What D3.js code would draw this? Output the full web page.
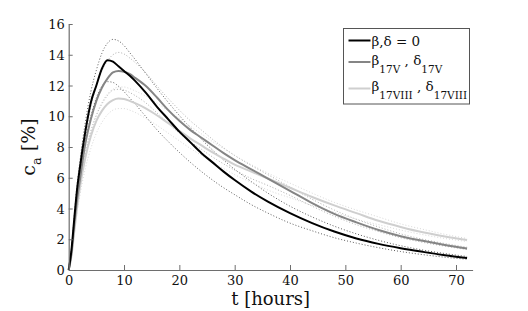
<!DOCTYPE html>
<html>
<head>
<meta charset="utf-8">
<script src="https://cdn.jsdelivr.net/npm/d3@7"></script>
<style>
  body { margin: 0; background: #fff; }
  svg { display: block; }
</style>
</head>
<body>
<div id="chart"></div>
<script>
// time grid (hours) shared by all curves
const hours = [0, 0.5, 1, 1.5, 2, 3, 4, 5, 6, 7, 8, 9, 10, 11, 12, 14, 16, 18, 20, 22, 24, 26, 28, 30, 33, 36, 40, 44, 48, 52, 56, 60, 64, 68, 72];

// beta, delta = 0
const caZero      = [0, 1.3, 3.3, 5.2, 6.6, 9.0, 10.9, 12.0, 13.1, 13.65, 13.55, 13.25, 12.95, 12.65, 12.3, 11.5, 10.6, 9.8, 9.0, 8.3, 7.6, 7.0, 6.4, 5.85, 5.1, 4.45, 3.7, 3.05, 2.5, 2.05, 1.7, 1.42, 1.18, 0.96, 0.78];
const caZeroHi    = [0, 1.4, 3.5, 5.5, 7.0, 9.6, 11.6, 13.0, 14.1, 14.75, 15.0, 14.9, 14.6, 14.15, 13.7, 12.75, 11.8, 10.9, 10.05, 9.25, 8.5, 7.8, 7.15, 6.55, 5.75, 5.0, 4.15, 3.45, 2.85, 2.35, 1.93, 1.58, 1.3, 1.07, 0.88];
const caZeroLo    = [0, 1.2, 3.1, 4.9, 6.2, 8.4, 10.0, 11.2, 11.95, 12.25, 12.2, 11.95, 11.6, 11.2, 10.8, 9.95, 9.1, 8.35, 7.65, 7.0, 6.4, 5.85, 5.35, 4.9, 4.25, 3.7, 3.05, 2.55, 2.1, 1.75, 1.45, 1.2, 1.0, 0.83, 0.7];

// beta_17V, delta_17V
const ca17V       = [0, 1.1, 2.9, 4.5, 5.8, 8.2, 9.8, 11.0, 11.85, 12.45, 12.85, 12.95, 12.9, 12.75, 12.5, 11.95, 11.2, 10.4, 9.7, 9.1, 8.6, 8.1, 7.6, 7.15, 6.55, 5.95, 5.15, 4.35, 3.65, 3.1, 2.6, 2.2, 1.9, 1.63, 1.4];
const ca17VHi     = [0, 1.2, 3.1, 4.8, 6.2, 8.7, 10.6, 12.0, 12.95, 13.6, 14.0, 14.15, 14.05, 13.8, 13.5, 12.8, 11.95, 11.15, 10.4, 9.7, 9.1, 8.5, 7.95, 7.45, 6.8, 6.2, 5.4, 4.6, 3.9, 3.3, 2.8, 2.35, 2.0, 1.72, 1.48];
const ca17VLo     = [0, 1.0, 2.7, 4.2, 5.4, 7.5, 9.0, 10.05, 10.8, 11.35, 11.7, 11.75, 11.7, 11.55, 11.35, 10.85, 10.2, 9.55, 8.9, 8.35, 7.85, 7.35, 6.9, 6.5, 5.95, 5.5, 4.85, 4.15, 3.5, 2.95, 2.5, 2.1, 1.8, 1.55, 1.33];

// beta_17VIII, delta_17VIII
const ca17VIII    = [0, 0.9, 2.5, 4.0, 5.3, 7.3, 8.7, 9.7, 10.35, 10.8, 11.05, 11.15, 11.12, 11.0, 10.85, 10.5, 10.05, 9.55, 9.05, 8.55, 8.1, 7.65, 7.25, 6.85, 6.4, 5.95, 5.35, 4.75, 4.2, 3.7, 3.2, 2.8, 2.45, 2.18, 1.95];
const ca17VIIIHi  = [0, 1.0, 2.7, 4.3, 5.6, 7.7, 9.1, 10.1, 10.9, 11.45, 11.75, 11.9, 11.9, 11.8, 11.65, 11.3, 10.85, 10.35, 9.85, 9.35, 8.85, 8.35, 7.9, 7.45, 6.85, 6.3, 5.65, 5.0, 4.4, 3.9, 3.45, 3.0, 2.65, 2.32, 2.05];
const ca17VIIILo  = [0, 0.8, 2.3, 3.7, 4.8, 6.6, 7.9, 8.9, 9.6, 10.1, 10.4, 10.5, 10.5, 10.4, 10.25, 9.85, 9.4, 8.9, 8.4, 7.9, 7.45, 7.0, 6.6, 6.2, 5.7, 5.2, 4.7, 4.2, 3.75, 3.3, 2.95, 2.6, 2.3, 2.05, 1.85];

const xTicks = [0, 10, 20, 30, 40, 50, 60, 70];
const yTicks = [0, 2, 4, 6, 8, 10, 12, 14, 16];

const serif = "DejaVu Serif";

const W = 528, H = 311;
const svg = d3.select("#chart").append("svg").attr("width", W).attr("height", H)
  .attr("font-family", serif);

// axis extents
const x = d3.scaleLinear().domain([0, 73]).range([68.7, 472.6]);
const y = d3.scaleLinear().domain([0, 16]).range([270, 24]);

const axisColor = "#6e6e6e";

// dotted bands first so solid curves sit on top
const bands = [
  { vals: caZeroHi, color: "#333" },
  { vals: caZeroLo, color: "#333" },
  { vals: ca17VHi, color: "#999" },
  { vals: ca17VLo, color: "#999" },
  { vals: ca17VIIIHi, color: "#cdcdcd" },
  { vals: ca17VIIILo, color: "#cdcdcd" }
];
const series = [
  { vals: ca17VIII, color: "#cfcfcf" },
  { vals: ca17V, color: "#858585" },
  { vals: caZero, color: "#000" }
];

const line = d3.line()
  .x(d => x(d[0]))
  .y(d => y(d[1]))
  .curve(d3.curveMonotoneX);

const pts = vals => hours.map((h, i) => [h, vals[i]]);

svg.append("g").selectAll("path").data(bands).join("path")
  .attr("d", d => line(pts(d.vals)))
  .attr("fill", "none")
  .attr("stroke", d => d.color)
  .attr("stroke-width", 0.8)
  .attr("stroke-dasharray", "1,2");

svg.append("g").selectAll("path").data(series).join("path")
  .attr("d", d => line(pts(d.vals)))
  .attr("fill", "none")
  .attr("stroke", d => d.color)
  .attr("stroke-width", 2);

// axes, ticks pointing inward like matlab
const gx = svg.append("g")
  .attr("transform", `translate(0,${y(0)})`)
  .call(d3.axisBottom(x).tickValues(xTicks).tickSizeInner(-5).tickSizeOuter(0).tickPadding(6));
const gy = svg.append("g")
  .attr("transform", `translate(${x(0)},0)`)
  .call(d3.axisLeft(y).tickValues(yTicks).tickSizeInner(-4).tickSizeOuter(0).tickPadding(4));

[gx, gy].forEach(g => {
  g.attr("font-family", serif).attr("font-size", 13);
  g.select(".domain").attr("stroke", axisColor).attr("stroke-width", 1.2);
  g.selectAll(".tick line").attr("stroke", axisColor);
  g.selectAll(".tick text").attr("fill", "#111");
});
gy.selectAll(".tick text").attr("dy", "0.36em");

// axis titles
svg.append("text")
  .attr("x", (x.range()[0] + x.range()[1]) / 2)
  .attr("y", 305)
  .attr("text-anchor", "middle")
  .attr("font-size", 18)
  .attr("fill", "#111")
  .text("t [hours]");

const yt = svg.append("text")
  .attr("transform", `translate(35,${(y(0) + y(16)) / 2}) rotate(-90)`)
  .attr("text-anchor", "middle")
  .attr("fill", "#111")
  .attr("font-size", 19);
yt.append("tspan").text("c");
yt.append("tspan").attr("dy", 6).attr("font-size", 13).text("a");
yt.append("tspan").attr("dy", -6).text(" [%]");

// legend
const legend = svg.append("g");
legend.append("rect")
  .attr("x", 343.5).attr("y", 28.5)
  .attr("width", 126).attr("height", 75.5)
  .attr("fill", "#fff")
  .attr("stroke", "#555")
  .attr("stroke-width", 1);

const legendRows = [
  { color: "#000", lineY: 40.5, base: 46, label: "β,δ = 0", sub: null },
  { color: "#858585", lineY: 62, base: 65, sub: "17V" },
  { color: "#cfcfcf", lineY: 88.5, base: 91, sub: "17VIII" }
];

legendRows.forEach(r => {
  legend.append("line")
    .attr("x1", 348.5).attr("x2", 370.5)
    .attr("y1", r.lineY).attr("y2", r.lineY)
    .attr("stroke", r.color)
    .attr("stroke-width", 2);
  const t = legend.append("text")
    .attr("x", 371.5).attr("y", r.base)
    .attr("fill", "#111")
    .attr("font-size", 13.5);
  if (!r.sub) {
    t.text(r.label);
  } else {
    t.append("tspan").text("β");
    t.append("tspan").attr("dy", 8).attr("font-size", 10.5).text(r.sub);
    t.append("tspan").attr("dy", -8).text(" , δ");
    t.append("tspan").attr("dy", 8).attr("font-size", 10.5).text(r.sub);
  }
});
</script>
</body>
</html>
